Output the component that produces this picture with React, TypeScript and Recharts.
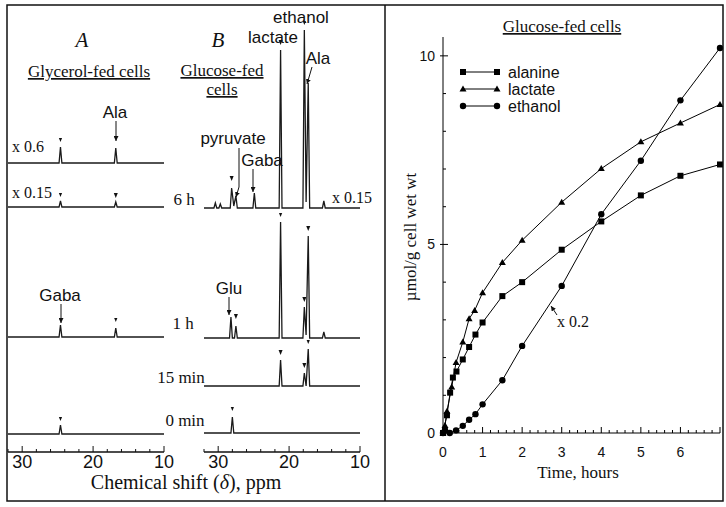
import React from 'react';
import { ComposedChart, LineChart, Line, Scatter, XAxis, YAxis } from 'recharts';

const SANS = '"Liberation Sans", Arial, sans-serif';
const SERIF = '"Liberation Serif", "Times New Roman", serif';

// ---- right panel: glucose-fed cells, µmol/g cell wet wt vs hours
const alanineHours = [0, 0.1, 0.18, 0.25, 0.34, 0.5, 0.66, 0.82, 1, 1.5, 2, 3, 4, 5, 6, 7];
const alanineConc = [0, 0.47, 1.07, 1.47, 1.63, 1.95, 2.28, 2.61, 2.93, 3.63, 4.0, 4.86, 5.61, 6.3, 6.82, 7.12];
const lactateHours = [0, 0.05, 0.1, 0.22, 0.33, 0.5, 0.66, 0.8, 1, 1.5, 2, 3, 4, 5, 6, 7];
const lactateConc = [0, 0.2, 0.58, 1.22, 1.87, 2.41, 3.03, 3.25, 3.72, 4.52, 5.11, 6.12, 7.01, 7.72, 8.22, 8.71];
const ethanolHours = [0, 0.05, 0.17, 0.33, 0.5, 0.66, 0.82, 1, 1.5, 2, 3, 4, 5, 6, 7];
const ethanolConc = [0, 0.08, 0, 0.07, 0.19, 0.35, 0.5, 0.76, 1.4, 2.31, 3.9, 5.8, 7.22, 8.82, 10.21];

const hourTicks = Array.from({ length: 36 }, (_, i) => (i * 2) / 10);
const hourLabels = [0, 1, 2, 3, 4, 5, 6];
const concTicks = [0, 1, 2, 3, 4, 5, 6, 7, 8, 9, 10];
const concLabels = [0, 5, 10];
const ppmTicks = [10, 12, 14, 16, 18, 20, 22, 24, 26, 28, 30, 32];
const ppmLabels = [10, 20, 30];

// ---- left panel: 13C spectra, [ppm, peak height]
const glycerol6hA = [[32, 0], [24.8, 0], [24.6, 16], [24.4, 0], [17.0, 0], [16.8, 15], [16.6, 0], [10, 0]];
const glycerol6hAMarks = [[24.6, 21]];
const glycerol6hB = [[32, 0], [24.8, 0], [24.6, 6], [24.4, 0], [17.0, 0], [16.8, 5], [16.6, 0], [10, 0]];
const glycerol6hBMarks = [[24.6, 10], [16.8, 9]];
const glycerol1h = [[32, 0], [24.8, 0], [24.6, 12], [24.4, 0], [17.0, 0], [16.8, 9], [16.6, 0], [10, 0]];
const glycerol1hMarks = [[16.8, 15]];
const glycerol0 = [[32, 0], [24.8, 0], [24.6, 9], [24.4, 0], [10, 0]];
const glycerol0Marks = [[24.6, 13]];

const glucose6h = [
  [32, 0], [30.6, 0], [30.4, 5], [30.2, 0], [29.9, 0], [29.7, 4], [29.5, 0], [28.3, 0], [28.1, 20],
  [27.8, 2], [27.5, 12], [27.3, 0], [25.1, 0], [24.9, 15], [24.7, 0], [21.4, 0], [21.2, 158], [21.0, 0],
  [18.05, 0], [17.85, 178], [17.6, 6], [17.3, 125], [17.1, 0], [15.3, 0], [15.1, 7], [14.9, 0], [10, 0],
];
const glucose6hMarks = [[28.1, 27], [21.2, 163], [17.85, 183]];
const glucose1h = [
  [32, 0], [28.4, 0], [28.2, 21], [28.0, 0], [27.7, 0], [27.5, 12], [27.3, 0], [21.4, 0], [21.2, 116],
  [21.0, 0], [18.05, 0], [17.85, 31], [17.6, 3], [17.3, 102], [17.1, 0], [15.3, 0], [15.1, 6], [14.9, 0], [10, 0],
];
const glucose1hMarks = [[27.5, 19], [21.2, 121], [17.85, 36], [17.3, 107]];
const glucose15m = [[32, 0], [21.4, 0], [21.2, 26], [21.0, 0], [18.05, 0], [17.85, 13], [17.6, 0], [17.3, 37], [17.1, 0], [10, 0]];
const glucose15mMarks = [[21.2, 31], [17.85, 18], [17.3, 42]];
const glucose0 = [[32, 0], [28.2, 0], [28.0, 16], [27.8, 0], [10, 0]];
const glucose0Marks = [[28.0, 22]];

const pts = (a: number[][]) => a.map(([ppm, h]) => ({ ppm, h }));
const series = (t: number[], v: number[]) => t.map((x, i) => ({ t: x, v: v[i] }));

const PLOT_W = 156;
const PPM_AXIS_Y = 452;

const PpmTick = ({ x, y, payload }: any) => {
  const v = payload.value;
  const major = ppmLabels.includes(v);
  return (
    <g>
      <line x1={x} x2={x} y1={y} y2={y - (major ? 6 : 3)} stroke="#111" />
      {major && (
        <text x={x} y={y + 16} textAnchor="middle" fontFamily={SANS} fontSize={18} fill="#111">
          {v}
        </text>
      )}
    </g>
  );
};

const PeakMark = ({ cx, cy }: any) => (
  <polygon points={`${cx - 2},${cy - 5} ${cx + 2},${cy - 5} ${cx},${cy}`} fill="#111" />
);

function Spectrum({ left, base, data, marks, axis }: any) {
  const d = pts(data);
  const m = pts(marks);
  const span = Math.max(...d.map((p) => p.h), ...m.map((p) => p.h)) + 4;
  const pad = axis ? PPM_AXIS_Y - base : 4;
  const axisH = axis ? 34 : 0;
  return (
    <div style={{ position: 'absolute', left: left - 12, top: base - span }}>
      <ComposedChart width={PLOT_W + 24} height={span + pad + axisH} margin={{ top: 0, right: 12, bottom: 0, left: 12 }}>
        <XAxis
          type="number"
          dataKey="ppm"
          domain={[10, 32]}
          reversed
          hide={!axis}
          height={axisH}
          ticks={ppmTicks}
          interval={0}
          tickSize={0}
          tickMargin={0}
          tickLine={false}
          axisLine={{ stroke: '#111', strokeWidth: 1.3 }}
          tick={(p: any) => <PpmTick {...p} />}
        />
        <YAxis type="number" dataKey="h" domain={[-pad, span]} hide />
        <Line data={d} dataKey="h" type="linear" dot={false} stroke="#1a1a1a" strokeWidth={1.3} isAnimationActive={false} />
        <Scatter data={m} dataKey="h" shape={(p: any) => <PeakMark {...p} />} isAnimationActive={false} />
      </ComposedChart>
    </div>
  );
}

const HourTick = ({ x, y, payload }: any) => {
  const v = payload.value;
  const major = Math.abs(v - Math.round(v)) < 1e-6;
  return (
    <g>
      <line x1={x} x2={x} y1={y} y2={y - (major ? 6 : 3)} stroke="#000" />
      {major && hourLabels.includes(Math.round(v)) && (
        <text x={x} y={y + 24} textAnchor="middle" fontFamily={SANS} fontSize={14} fill="#111">
          {Math.round(v)}
        </text>
      )}
    </g>
  );
};

const ConcTick = ({ x, y, payload }: any) => {
  const v = payload.value;
  const major = concLabels.includes(v);
  return (
    <g>
      <line x1={major ? x - 3 : x} x2={x + (major ? 5 : 3)} y1={y} y2={y} stroke="#000" />
      {major && (
        <text x={x - 8} y={y + 5} textAnchor="end" fontFamily={SANS} fontSize={14} fill="#111">
          {v}
        </text>
      )}
    </g>
  );
};

const SquareDot = ({ cx, cy }: any) => <rect x={cx - 3} y={cy - 3} width={6} height={6} fill="#000" />;
const TriDot = ({ cx, cy }: any) => <polygon points={`${cx},${cy - 3.5} ${cx + 3.5},${cy + 2.5} ${cx - 3.5},${cy + 2.5}`} fill="#000" />;
const CircleDot = ({ cx, cy }: any) => <circle cx={cx} cy={cy} r={3.2} fill="#000" />;

const legendRows = [
  { name: 'alanine', Dot: SquareDot },
  { name: 'lactate', Dot: TriDot },
  { name: 'ethanol', Dot: CircleDot },
];

export default function App() {
  const lbl = { fontFamily: SANS, fontSize: 17, fill: '#111' } as const;
  const ser = { fontFamily: SERIF, fontSize: 17, fill: '#111' } as const;
  return (
    <div style={{ position: 'absolute', left: 0, top: 0, width: 726, height: 507, background: '#fff' }}>
      {/* A: glycerol-fed */}
      <Spectrum left={8} base={163} data={glycerol6hA} marks={glycerol6hAMarks} />
      <Spectrum left={8} base={207} data={glycerol6hB} marks={glycerol6hBMarks} />
      <Spectrum left={8} base={337} data={glycerol1h} marks={glycerol1hMarks} />
      <Spectrum left={8} base={434} data={glycerol0} marks={glycerol0Marks} axis />
      {/* B: glucose-fed */}
      <Spectrum left={204} base={208} data={glucose6h} marks={glucose6hMarks} />
      <Spectrum left={204} base={338} data={glucose1h} marks={glucose1hMarks} />
      <Spectrum left={204} base={386} data={glucose15m} marks={glucose15mMarks} />
      <Spectrum left={204} base={433} data={glucose0} marks={glucose0Marks} axis />

      <div style={{ position: 'absolute', left: 390, top: 0 }}>
        <LineChart width={334} height={507} margin={{ top: 37, right: 4, bottom: 44, left: 13 }}>
          <XAxis
            type="number"
            dataKey="t"
            domain={[0, 7]}
            ticks={hourTicks}
            interval={0}
            height={30}
            tickSize={0}
            tickMargin={0}
            tickLine={false}
            axisLine={{ stroke: '#000' }}
            tick={(p: any) => <HourTick {...p} />}
          />
          <YAxis
            type="number"
            domain={[0, 10.5]}
            ticks={concTicks}
            interval={0}
            width={40}
            tickSize={0}
            tickMargin={0}
            tickLine={false}
            axisLine={{ stroke: '#000' }}
            tick={(p: any) => <ConcTick {...p} />}
          />
          <Line data={series(alanineHours, alanineConc)} dataKey="v" name="alanine" type="linear" stroke="#000" strokeWidth={1} dot={(p: any) => <SquareDot key={p.index} {...p} />} isAnimationActive={false} />
          <Line data={series(lactateHours, lactateConc)} dataKey="v" name="lactate" type="linear" stroke="#000" strokeWidth={1} dot={(p: any) => <TriDot key={p.index} {...p} />} isAnimationActive={false} />
          <Line data={series(ethanolHours, ethanolConc)} dataKey="v" name="ethanol" type="linear" stroke="#000" strokeWidth={1} dot={(p: any) => <CircleDot key={p.index} {...p} />} isAnimationActive={false} />
        </LineChart>
      </div>

      <svg width={726} height={507} style={{ position: 'absolute', left: 0, top: 0, pointerEvents: 'none' }}>
        <defs>
          <marker id="ah" viewBox="0 0 6 6" refX="6" refY="3" markerWidth="5" markerHeight="5" orient="auto">
            <path d="M0,0 L6,3 L0,6 z" fill="#111" />
          </marker>
        </defs>
        <rect x={7} y={5} width={716} height={496} fill="none" stroke="#111" strokeWidth={1.5} />
        <line x1={385} x2={385} y1={5} y2={501} stroke="#111" strokeWidth={1.5} />

        {/* left panel text */}
        <text x={82} y={47} textAnchor="middle" fontFamily={SERIF} fontStyle="italic" fontSize={21} fill="#111">A</text>
        <text x={218} y={47} textAnchor="middle" fontFamily={SERIF} fontStyle="italic" fontSize={21} fill="#111">B</text>
        <text x={89} y={77} textAnchor="middle" textDecoration="underline" {...ser}>Glycerol-fed cells</text>
        <text x={222} y={76} textAnchor="middle" textDecoration="underline" {...ser}>Glucose-fed</text>
        <text x={222} y={95} textAnchor="middle" textDecoration="underline" {...ser}>cells</text>

        <text x={12} y={152} {...ser} fontSize={16}>x 0.6</text>
        <text x={12} y={198} {...ser} fontSize={16}>x 0.15</text>
        <text x={332} y={203} {...ser} fontSize={16}>x 0.15</text>
        <text x={184} y={205} textAnchor="middle" {...ser}>6 h</text>
        <text x={183} y={329} textAnchor="middle" {...ser}>1 h</text>
        <text x={181} y={383} textAnchor="middle" {...ser}>15 min</text>
        <text x={185} y={426} textAnchor="middle" {...ser}>0 min</text>

        <text x={115} y={118} textAnchor="middle" {...lbl}>Ala</text>
        <text x={60} y={301} textAnchor="middle" {...lbl}>Gaba</text>
        <text x={229} y={294} textAnchor="middle" {...lbl}>Glu</text>
        <text x={233} y={144} textAnchor="middle" {...lbl}>pyruvate</text>
        <text x={262} y={166} textAnchor="middle" {...lbl}>Gaba</text>
        <text x={273} y={43} textAnchor="middle" {...lbl}>lactate</text>
        <text x={301} y={23} textAnchor="middle" {...lbl}>ethanol</text>
        <text x={318} y={64} textAnchor="middle" {...lbl}>Ala</text>

        <g stroke="#111" strokeWidth={1} fill="none" markerEnd="url(#ah)">
          <path d="M116,121 L116,141" />
          <path d="M61,304 L61,323" />
          <path d="M239,148 L239,187 L236,197" />
          <path d="M253,169 L253,192" />
          <path d="M312,67 L307,84" />
          <path d="M229,297 L229,315" />
          <path d="M557,315 L551,306" />
        </g>

        <text x={186} y={489} textAnchor="middle" fontFamily={SERIF} fontSize={20} fill="#111">
          Chemical shift (<tspan fontStyle="italic">δ</tspan>), ppm
        </text>

        {/* right panel text */}
        <text x={562} y={32} textAnchor="middle" textDecoration="underline" {...ser}>Glucose-fed cells</text>
        <text transform="translate(416,237) rotate(-90)" textAnchor="middle" {...ser}>µmol/g cell wet wt</text>
        <text x={578} y={478} textAnchor="middle" {...ser}>Time, hours</text>
        <text x={557} y={327} {...ser} fontSize={16}>x 0.2</text>

        {legendRows.map(({ name, Dot }, i) => {
          const y = 72 + i * 17;
          return (
            <g key={name}>
              <line x1={463} x2={497} y1={y} y2={y} stroke="#000" />
              <Dot cx={463} cy={y} />
              <Dot cx={497} cy={y} />
              <text x={508} y={y + 6} fontFamily={SANS} fontSize={16} fill="#111">{name}</text>
            </g>
          );
        })}
      </svg>
    </div>
  );
}
